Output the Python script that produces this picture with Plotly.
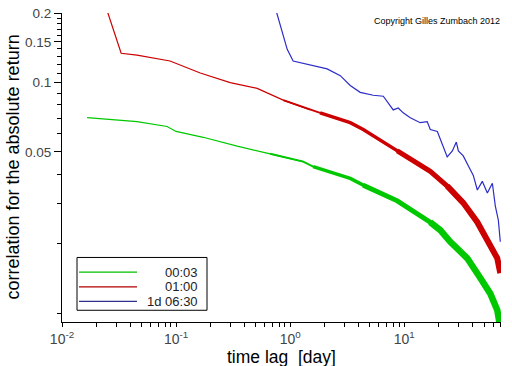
import math
import plotly.graph_objects as go

# ---------------- data ----------------
series_names = ["00:03", "01:00", "1d 06:30"]

green_x = [0.0166, 0.0455, 0.0834, 0.100, 0.173, 0.343, 0.668, 1.30, 1.59, 3.36,
           4.37, 8.69, 16.9, 20.7, 25.3, 35.7, 46.4, 56.8, 65.4, 68.1]
green_y = [0.0704, 0.0677, 0.0645, 0.0614, 0.0579, 0.0530, 0.0491, 0.0454, 0.0432, 0.0384,
           0.0359, 0.0307, 0.0248, 0.0229, 0.0204, 0.0173, 0.0142, 0.01216, 0.0103, 0.00916]

red_x = [0.0243, 0.0330, 0.0455, 0.0885, 0.163, 0.298, 0.514, 0.869, 1.50, 1.83,
         3.36, 4.37, 8.69, 16.9, 23.8, 32.9, 43.7, 53.5, 65.4, 69.5]
red_y = [0.212, 0.134, 0.1315, 0.124, 0.110, 0.100, 0.0943, 0.0839, 0.0761, 0.0739,
         0.0670, 0.0626, 0.0505, 0.0412, 0.0356, 0.0301, 0.0248, 0.0210, 0.0173, 0.0149]

blue_x = [0.738, 0.942, 1.062, 1.50, 2.11, 2.75, 3.36, 4.11, 5.35, 6.55,
          7.54, 8.01, 8.86, 9.79, 11.3, 13.8, 15.9, 16.9, 19.5, 22.0,
          23.8, 26.4, 28.6, 29.8, 32.9, 36.4, 40.3, 43.7, 48.3, 53.5,
          59.2, 62.8, 66.8, 69.5]
blue_y = [0.212, 0.1393, 0.124, 0.1191, 0.1146, 0.1071, 0.0971, 0.0907, 0.0881, 0.0872,
          0.0799, 0.0761, 0.0776, 0.0739, 0.0704, 0.0670, 0.0677, 0.0626, 0.0614, 0.0525,
          0.0476, 0.0505, 0.0552, 0.0505, 0.0481, 0.0436, 0.0396, 0.0342, 0.0373, 0.0332,
          0.0366, 0.0292, 0.0253, 0.0204]

x_tickvals = [0.01, 0.1, 1, 10]
x_ticktext = ["10<sup>-2</sup>", "10<sup>-1</sup>", "10<sup>0</sup>", "10<sup>1</sup>"]
y_tickvals = [0.05, 0.1, 0.15, 0.2]
y_ticktext = ["0.05", "0.1", "0.15", "0.2"]

x_title = "time lag  [day]"
y_title = "correlation for the absolute return"
copyright_text = "Copyright Gilles Zumbach 2012"

# ---------------- styling ----------------
FONT = "Liberation Sans, Arial, sans-serif"
colors = ["#00c800", "#cc0000", "#2b2bc8"]
legend_colors = ["#00c000", "#b00000", "#303090"]
# the measured curves get visibly noisier (thicker) at long lags
width_steps = [
    [(0, 1.2), (0.8, 2.0), (2.0, 3.5), (6.0, 5.0), (20.0, 6.5)],
    [(0, 1.2), (1.0, 2.0), (3.0, 3.5), (10.0, 5.0), (30.0, 6.0)],
    [(0, 1.2)],
]

fig = go.Figure()

all_series = [(green_x, green_y), (red_x, red_y), (blue_x, blue_y)]
for k, (xs, ys) in enumerate(all_series):
    steps = width_steps[k]
    for j, (lo, w) in enumerate(steps):
        hi = steps[j + 1][0] if j + 1 < len(steps) else math.inf
        idx = [i for i in range(len(xs)) if lo <= xs[i] < hi]
        if not idx:
            continue
        if idx[0] > 0:
            idx = [idx[0] - 1] + idx
        if idx[-1] + 1 < len(xs):
            idx = idx + [idx[-1] + 1]
        fig.add_trace(go.Scatter(
            x=[xs[i] for i in idx], y=[ys[i] for i in idx],
            mode="lines", name=series_names[k], showlegend=False,
            line=dict(color=colors[k], width=w), hoverinfo="skip"))

x_minor = [m * 10 ** e for e in range(-2, 2) for m in range(2, 10) if m * 10 ** e < 70.5]
y_minor = [round(0.01 * i, 2) for i in range(1, 20) if round(0.01 * i, 2) not in y_tickvals]

x_range = [-2.0, 1.848]
y_range = [math.log10(0.00916), math.log10(0.2) + 0.0005]

fig.update_xaxes(
    type="log", range=x_range, showgrid=False, zeroline=False,
    showline=True, linecolor="black", linewidth=1,
    tickmode="array", tickvals=x_tickvals, ticktext=x_ticktext,
    ticks="outside", ticklen=4, tickcolor="black", tickwidth=1,
    ticklabeloverflow="allow",
    tickfont=dict(family=FONT, size=14, color="#444444"),
    minor=dict(tickmode="array", tickvals=x_minor, ticks="outside",
               ticklen=4, tickcolor="black", tickwidth=1, showgrid=False),
)
fig.update_yaxes(
    type="log", range=y_range, showgrid=False, zeroline=False,
    showline=True, linecolor="black", linewidth=1,
    tickmode="array", tickvals=y_tickvals, ticktext=y_ticktext,
    ticks="outside", ticklen=7, tickcolor="black", tickwidth=1,
    ticklabeloverflow="allow",
    tickfont=dict(family=FONT, size=13.5, color="#444444"),
    minor=dict(tickmode="array", tickvals=y_minor, ticks="outside",
               ticklen=4, tickcolor="black", tickwidth=1, showgrid=False),
)

L, R, T, B = 62, 11, 6, 44
W, H = 512, 366
pw, ph = W - L - R, H - T - B


def px(xp):
    return (xp - L) / pw


def py(yp):
    return (H - B - yp) / ph


annotations = [
    dict(text=x_title, xref="paper", yref="paper", x=0.5, y=py(357.5),
         xanchor="center", yanchor="middle", showarrow=False,
         font=dict(family=FONT, size=17.5, color="black")),
    dict(text=y_title, xref="paper", yref="paper", x=px(12), y=0.5,
         xanchor="center", yanchor="middle", showarrow=False, textangle=-90,
         font=dict(family=FONT, size=18, color="black")),
    dict(text=copyright_text, xref="paper", yref="paper", x=px(502), y=py(14),
         xanchor="right", yanchor="middle", showarrow=False,
         font=dict(family=FONT, size=9, color="black")),
]

shapes = [dict(type="rect", xref="paper", yref="paper",
               x0=px(77), x1=px(207), y0=py(310), y1=py(256),
               line=dict(color="black", width=1), fillcolor="white", layer="above")]
legend_rows = [271, 286, 301]
for k, name in enumerate(series_names):
    shapes.append(dict(type="line", xref="paper", yref="paper",
                       x0=px(79), x1=px(137), y0=py(legend_rows[k]), y1=py(legend_rows[k]),
                       line=dict(color=legend_colors[k], width=1.2), layer="above"))
    annotations.append(dict(text=name, xref="paper", yref="paper",
                            x=px(200), y=py(legend_rows[k]), xanchor="right", yanchor="middle",
                            showarrow=False, font=dict(family=FONT, size=13, color="#222222")))

fig.update_layout(
    width=W, height=H, margin=dict(l=L, r=R, t=T, b=B),
    paper_bgcolor="white", plot_bgcolor="white",
    showlegend=False, annotations=annotations, shapes=shapes,
)

fig.write_html("out.html", config={"displayModeBar": False},
               post_script="document.body.style.margin='0';document.body.style.overflow='hidden';")
